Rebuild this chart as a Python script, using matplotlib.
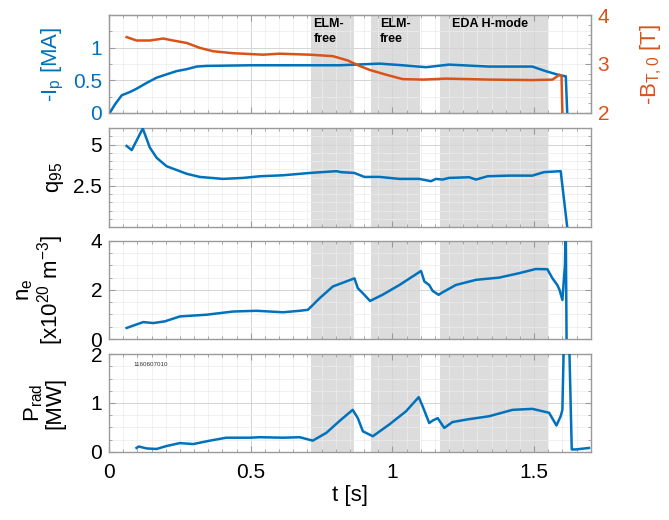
import matplotlib.pyplot as plt
from matplotlib.ticker import MultipleLocator

plt.rcParams['font.family'] = ['Liberation Sans', 'DejaVu Sans']
plt.rcParams['mathtext.default'] = 'regular'

BLUE = '#0072BD'
ORANGE = '#D95319'
FRAME = '#9a9a9a'

# plasma current, -Ip [MA]
t_ip = [0.004, 0.021, 0.045, 0.074, 0.097, 0.133, 0.168, 0.203, 0.238, 0.274, 0.309,
        0.344, 0.5, 0.65, 0.813, 0.954, 1.036, 1.119, 1.2, 1.342, 1.494, 1.541, 1.588,
        1.612, 1.617]
ip = [0.01, 0.13, 0.27, 0.32, 0.37, 0.46, 0.54, 0.59, 0.64, 0.67, 0.71,
      0.72, 0.73, 0.73, 0.73, 0.755, 0.73, 0.70, 0.74, 0.71, 0.71, 0.64, 0.58,
      0.56, 0.0]

# toroidal field, -BT0 [T]
t_bt = [0.062, 0.097, 0.144, 0.191, 0.226, 0.274, 0.320, 0.367, 0.438, 0.543, 0.602,
        0.708, 0.790, 0.843, 0.880, 0.919, 0.978, 1.036, 1.107, 1.189, 1.342, 1.494,
        1.565, 1.590, 1.597, 1.602]
bt = [3.55, 3.48, 3.48, 3.52, 3.48, 3.43, 3.33, 3.26, 3.22, 3.19, 3.21,
      3.19, 3.16, 3.07, 2.97, 2.88, 2.78, 2.69, 2.68, 2.70, 2.68, 2.67,
      2.68, 2.78, 2.75, 1.5]

# safety factor q95
t_q = [0.062, 0.080, 0.119, 0.144, 0.168, 0.203, 0.274, 0.320, 0.402, 0.473, 0.532,
       0.614, 0.708, 0.802, 0.819, 0.866, 0.901, 0.954, 1.025, 1.095, 1.136, 1.154,
       1.177, 1.2, 1.271, 1.295, 1.336, 1.412, 1.494, 1.535, 1.594, 1.617]
q95 = [4.92, 4.67, 5.98, 4.82, 4.2, 3.69, 3.23, 3.04, 2.92, 2.98, 3.08,
       3.14, 3.28, 3.39, 3.33, 3.28, 3.04, 3.04, 2.92, 2.92, 2.78, 2.92,
       2.88, 2.98, 3.02, 2.88, 3.08, 3.12, 3.12, 3.33, 3.39, 0.0]

# line averaged density [1e20 m^-3]
t_ne = [0.062, 0.086, 0.121, 0.156, 0.197, 0.25, 0.344, 0.438, 0.52, 0.614, 0.673,
        0.702, 0.743, 0.790, 0.866, 0.878, 0.901, 0.921, 0.965, 1.025, 1.101, 1.113,
        1.130, 1.142, 1.163, 1.177, 1.224, 1.295, 1.377, 1.447, 1.506, 1.547, 1.565,
        1.582, 1.590, 1.600, 1.609, 1.612, 1.615]
ne = [0.45, 0.55, 0.69, 0.65, 0.72, 0.92, 0.99, 1.12, 1.15, 1.09, 1.15,
      1.19, 1.66, 2.14, 2.47, 2.07, 1.8, 1.55, 1.8, 2.2, 2.77, 2.34,
      2.2, 1.96, 1.8, 1.9, 2.2, 2.41, 2.5, 2.68, 2.85, 2.84, 2.47,
      2.2, 2.0, 1.59, 3.0, 4.5, -0.5]

# radiated power [MW]
t_prad = [0.097, 0.105, 0.133, 0.168, 0.203, 0.25, 0.297, 0.356, 0.414, 0.496, 0.532,
          0.614, 0.673, 0.719, 0.767, 0.813, 0.860, 0.878, 0.896, 0.931, 0.989, 1.048,
          1.093, 1.107, 1.130, 1.142, 1.160, 1.183, 1.212, 1.26, 1.342, 1.424, 1.494,
          1.553, 1.579, 1.594, 1.600, 1.606, 1.623, 1.633, 1.647, 1.694]
prad = [0.08, 0.11, 0.07, 0.06, 0.12, 0.18, 0.16, 0.23, 0.29, 0.29, 0.3,
        0.29, 0.3, 0.23, 0.39, 0.63, 0.86, 0.69, 0.42, 0.32, 0.56, 0.83,
        1.12, 0.93, 0.59, 0.64, 0.69, 0.49, 0.61, 0.66, 0.73, 0.86, 0.88,
        0.8, 0.54, 0.73, 0.86, 2.5, 2.5, 0.05, 0.05, 0.08]

# phases
phase_start = [0.714, 0.925, 1.169]
phase_end = [0.863, 1.099, 1.549]
phase_label = ['ELM-\nfree', 'ELM-\nfree', 'EDA H-mode']
phase_label_x = [0.722, 0.955, 1.21]

shot = '1160607010'


def style_axes(ax, ymajor, yminor, right=True):
    ax.set_xlim(0, 1.7)
    ax.xaxis.set_major_locator(MultipleLocator(0.5))
    ax.xaxis.set_minor_locator(MultipleLocator(0.05))
    ax.yaxis.set_major_locator(MultipleLocator(ymajor))
    ax.yaxis.set_minor_locator(MultipleLocator(yminor))
    ax.tick_params(which='both', direction='in', top=True, right=right,
                   color=FRAME, labelsize=15)
    ax.tick_params(which='major', length=4, width=0.8)
    ax.tick_params(which='minor', length=2, width=0.6)
    ax.tick_params(axis='y', pad=5)
    ax.tick_params(axis='x', pad=8)
    ax.grid(which='major', color='#d4d4d4', lw=0.7)
    ax.grid(which='minor', color='#ececec', lw=0.5)
    ax.set_axisbelow(True)
    for s in ax.spines.values():
        s.set_color(FRAME)
        s.set_linewidth(1.0)
    for a, b in zip(phase_start, phase_end):
        ax.axvspan(a, b, color='#dcdcdc', lw=0, zorder=0.3)


fig = plt.figure(figsize=(6.69, 5.2), dpi=100)
L, W = 0.163, 0.72
ax1 = fig.add_axes([L, 0.783, W, 0.188])
ax2 = fig.add_axes([L, 0.5635, W, 0.19])
ax3 = fig.add_axes([L, 0.348, W, 0.189])
ax4 = fig.add_axes([L, 0.131, W, 0.188])

# top panel: Ip and BT
style_axes(ax1, 0.5, 0.25, right=False)
ax1.plot(t_ip, ip, color=BLUE, lw=1.8, zorder=3)
ax1.set_ylim(0, 1.5)
ax1.set_yticks([0, 0.5, 1])
ax1.set_yticklabels(['0', '0.5', '1'])
ax1.tick_params(axis='y', labelcolor=BLUE)
ax1.set_ylabel('-I$_{p}$ [MA]', color=BLUE, fontsize=16)
for x, s in zip(phase_label_x, phase_label):
    ax1.text(x, 1.45, s, fontsize=9, fontweight='bold', va='top', ha='left',
             linespacing=1.3)
ax1.tick_params(labelbottom=False)

# twin axis sits on top of ax1, its patch is transparent
ax1r = ax1.twinx()
ax1r.plot(t_bt, bt, color=ORANGE, lw=1.8)
ax1r.set_ylim(2, 4)
ax1r.yaxis.set_major_locator(MultipleLocator(1))
ax1r.yaxis.set_minor_locator(MultipleLocator(0.2))
ax1r.tick_params(which='both', direction='in', color=FRAME, labelsize=15,
                 labelcolor=ORANGE, pad=5)
ax1r.tick_params(which='major', length=4)
ax1r.tick_params(which='minor', length=2)
for s in ax1r.spines.values():
    s.set_color(FRAME)
ax1r.set_ylabel('-B$_{T,0}$ [T]', color=ORANGE, fontsize=16)

# q95
style_axes(ax2, 2.5, 0.5)
ax2.plot(t_q, q95, color=BLUE, lw=1.8, zorder=3)
ax2.set_ylim(0, 6)
ax2.set_yticks([2.5, 5])
ax2.set_yticklabels(['2.5', '5'])
ax2.set_ylabel('q$_{95}$', fontsize=16)
ax2.tick_params(labelbottom=False)

# density
style_axes(ax3, 2, 0.5)
ax3.plot(t_ne, ne, color=BLUE, lw=1.8, zorder=3)
ax3.set_ylim(0, 4)
ax3.set_ylabel('n$_e$\n[x10$^{20}$ m$^{-3}$]', fontsize=16, linespacing=1.0)
ax3.tick_params(labelbottom=False)

# radiated power
style_axes(ax4, 1, 0.25)
ax4.plot(t_prad, prad, color=BLUE, lw=1.8, zorder=3)
ax4.set_ylim(0, 2)
ax4.set_xticks([0, 0.5, 1, 1.5])
ax4.set_xticklabels(['0', '0.5', '1', '1.5'])
ax4.set_ylabel('P$_{rad}$\n[MW]', fontsize=16, linespacing=1.0)
ax4.set_xlabel('t [s]', fontsize=16, labelpad=2)
ax4.text(0.085, 1.79, shot, fontsize=4.5, va='center', color='#333333')

for ax in (ax1, ax2, ax3, ax4):
    ax.yaxis.set_label_coords(-0.09, 0.5)
ax1r.yaxis.set_label_coords(1.1, 0.5)

fig.savefig('out.png', dpi=100)
